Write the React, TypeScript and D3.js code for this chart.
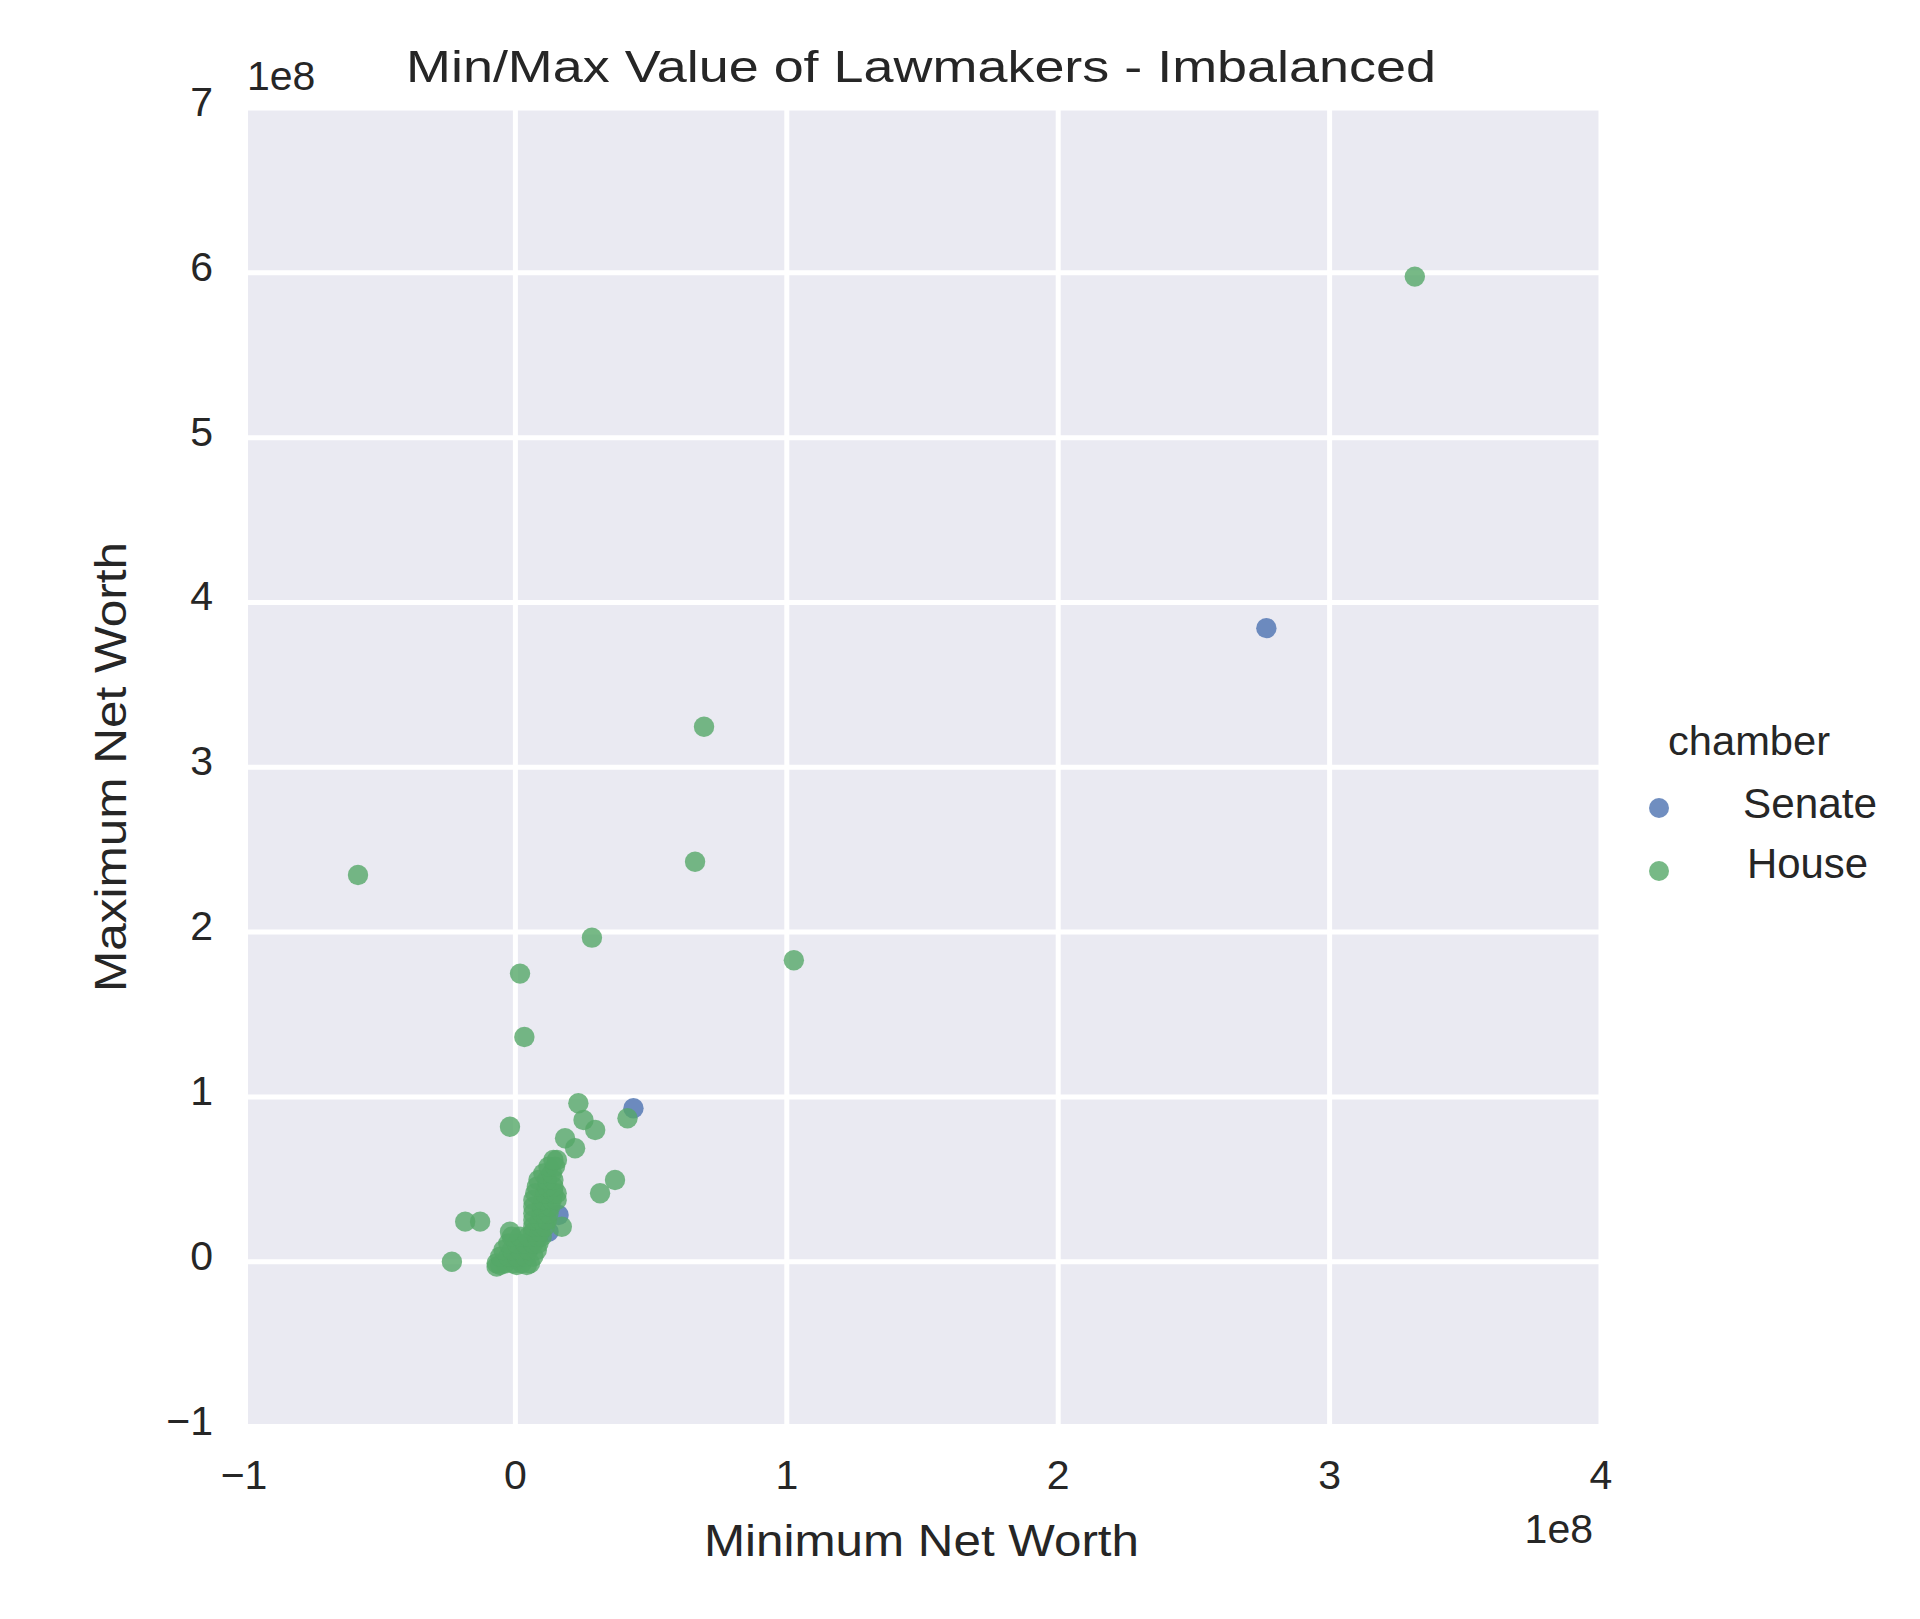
import React from "react";
import * as d3 from "d3";

// Values in millions of USD (axis shown in units of 1e8)
const houseMin = [
  331.4, 69.5, -58.0, 66.2, 28.2, 102.6, 1.7, 3.3,
  23.2, 41.3, -2.0, 29.4, 25.1, 18.3, 22.0, 15.3, 36.7, 31.2, -18.5, -13.0, -23.4, -6.9, 17.1,
  -6.9, -3.8, -0.7, 2.3, 5.4,
  -5.6, 0.5, 4.2,
  -5.6, -2.6, 0.5, 3.6, 6.6,
  -4.4, -1.3, 1.7, 4.8, 7.9,
  -2.6, 0.5, 3.6, 6.6, 8.5,
  -1.3, 1.7, 4.8, 7.9, 9.7,
  -2.0, 6.6, 9.1,
  6.6, 9.1, 10.9,
  6.6, 9.1, 11.6,
  6.6, 9.7, 12.2,
  6.6, 9.7, 12.8,
  6.6, 10.3, 13.4, 15.2,
  7.3, 10.9, 14.0, 15.2,
  7.9, 11.6, 14.0,
  8.5, 11.6, 14.0,
  10.3, 13.4,
  12.2, 14.6,
  14.0,
];
const houseMax = [
  597.7, 324.6, 234.6, 242.7, 196.6, 182.9, 174.8, 136.3,
  96.1, 87.0, 81.9, 79.9, 86.0, 74.9, 68.8, 61.7, 49.6, 41.5, 24.3, 24.3, 0.0, -3.0, 21.2,
  -1.0, -1.0, -1.0, -1.0, -1.0,
  -2.0, -2.0, -2.0,
  3.1, 3.1, 3.1, 3.1, 3.1,
  7.1, 7.1, 7.1, 7.1, 7.1,
  11.1, 11.1, 11.1, 11.1, 11.1,
  15.2, 15.2, 15.2, 15.2, 15.2,
  18.2, 18.2, 18.2,
  21.3, 21.3, 21.3,
  25.3, 25.3, 25.3,
  29.4, 29.4, 29.4,
  33.4, 33.4, 33.4,
  37.4, 37.4, 37.4, 37.4,
  41.5, 41.5, 41.5, 41.5,
  45.5, 45.5, 45.5,
  49.6, 49.6, 49.6,
  53.6, 53.6,
  57.7, 57.7,
  61.7,
];
const senateMin = [276.7, 43.5, 15.9, 12.2, 2.0, 5.0, 0.5, 8.0];
const senateMax = [384.4, 93.1, 28.3, 18.2, 3.0, 8.0, 1.0, 14.0];

const xTicks = [-1, 0, 1, 2, 3, 4];
const yTicks = [-1, 0, 1, 2, 3, 4, 5, 6, 7];
const chamberNames = ["Senate", "House"];
const chamberColors = ["#4C72B0", "#55A868"];

const FONT = "'Liberation Sans', Arial, Helvetica, sans-serif";
const TXT = "#262626";

export default function App() {
  const W = 1920;
  const H = 1619;
  const x = d3.scaleLinear().domain([-100, 400]).range([244, 1601]);
  const y = d3.scaleLinear().domain([-100, 700]).range([1426.5, 108]);
  const plotL = 248, plotR = 1601, plotT = 108, plotB = 1425;

  const series = [
    { name: chamberNames[0], color: chamberColors[0], xs: senateMin, ys: senateMax },
    { name: chamberNames[1], color: chamberColors[1], xs: houseMin, ys: houseMax },
  ];

  const fmt = (v: number) => (v < 0 ? "\u2212" + Math.abs(v) : String(v));

  return (
    <div style={{ position: "absolute", left: 0, top: 0 }}>
      <svg width={W} height={H} xmlns="http://www.w3.org/2000/svg" style={{ display: "block", background: "#fff" }}>
        <defs>
          <clipPath id="plotclip">
            <rect x={plotL} y={plotT} width={plotR - plotL} height={plotB - plotT} />
          </clipPath>
        </defs>
        <rect x={plotL} y={plotT} width={plotR - plotL} height={plotB - plotT} fill="#EAEAF2" />
        <g clipPath="url(#plotclip)">
          {xTicks.map((t) => (
            <line key={"gx" + t} x1={x(t * 100)} x2={x(t * 100)} y1={plotT} y2={plotB} stroke="#fff" strokeWidth={5} />
          ))}
          {yTicks.map((t) => (
            <line key={"gy" + t} x1={plotL} x2={plotR} y1={y(t * 100)} y2={y(t * 100)} stroke="#fff" strokeWidth={5} />
          ))}
          {series.map((s) => (
            <g key={s.name}>
              {s.xs.map((v, i) => (
                <circle key={i} cx={x(v)} cy={y(s.ys[i])} r={10.2} fill={s.color} fillOpacity={0.8} />
              ))}
            </g>
          ))}
        </g>

        {/* tick labels */}
        <g fontFamily={FONT} fontSize={41} fill={TXT}>
          {xTicks.map((t) => (
            <text key={"xt" + t} x={x(t * 100)} y={1489} textAnchor="middle">{fmt(t)}</text>
          ))}
          {yTicks.map((t) => (
            <text key={"yt" + t} x={213} y={y(t * 100) + 8} textAnchor="end">{fmt(t)}</text>
          ))}
          <text x={247} y={90} textAnchor="start">1e8</text>
          <text x={1593} y={1543} textAnchor="end">1e8</text>
        </g>

        {/* axis labels */}
        <text x={921.5} y={1556} textAnchor="middle" fontFamily={FONT} fontSize={44} fill={TXT}
          textLength={435} lengthAdjust="spacingAndGlyphs">Minimum Net Worth</text>
        <text transform={`translate(126,767) rotate(-90)`} textAnchor="middle" fontFamily={FONT} fontSize={44} fill={TXT}
          textLength={450} lengthAdjust="spacingAndGlyphs">Maximum Net Worth</text>

        {/* title */}
        <text x={921} y={82} textAnchor="middle" fontFamily={FONT} fontSize={45} fill={TXT}
          textLength={1030} lengthAdjust="spacingAndGlyphs">Min/Max Value of Lawmakers - Imbalanced</text>

        {/* legend */}
        <g fontFamily={FONT} fill={TXT}>
          <text x={1668} y={755} fontSize={40} textLength={162} lengthAdjust="spacingAndGlyphs">chamber</text>
          {series.map((s, i) => (
            <g key={"lg" + s.name}>
              <circle cx={1659} cy={i === 0 ? 808 : 871} r={10} fill={s.color} fillOpacity={0.8} />
              <text x={i === 0 ? 1743 : 1747} y={i === 0 ? 818 : 878} fontSize={42}
                textLength={i === 0 ? 134 : 121} lengthAdjust="spacingAndGlyphs">{s.name}</text>
            </g>
          ))}
        </g>
      </svg>
    </div>
  );
}
